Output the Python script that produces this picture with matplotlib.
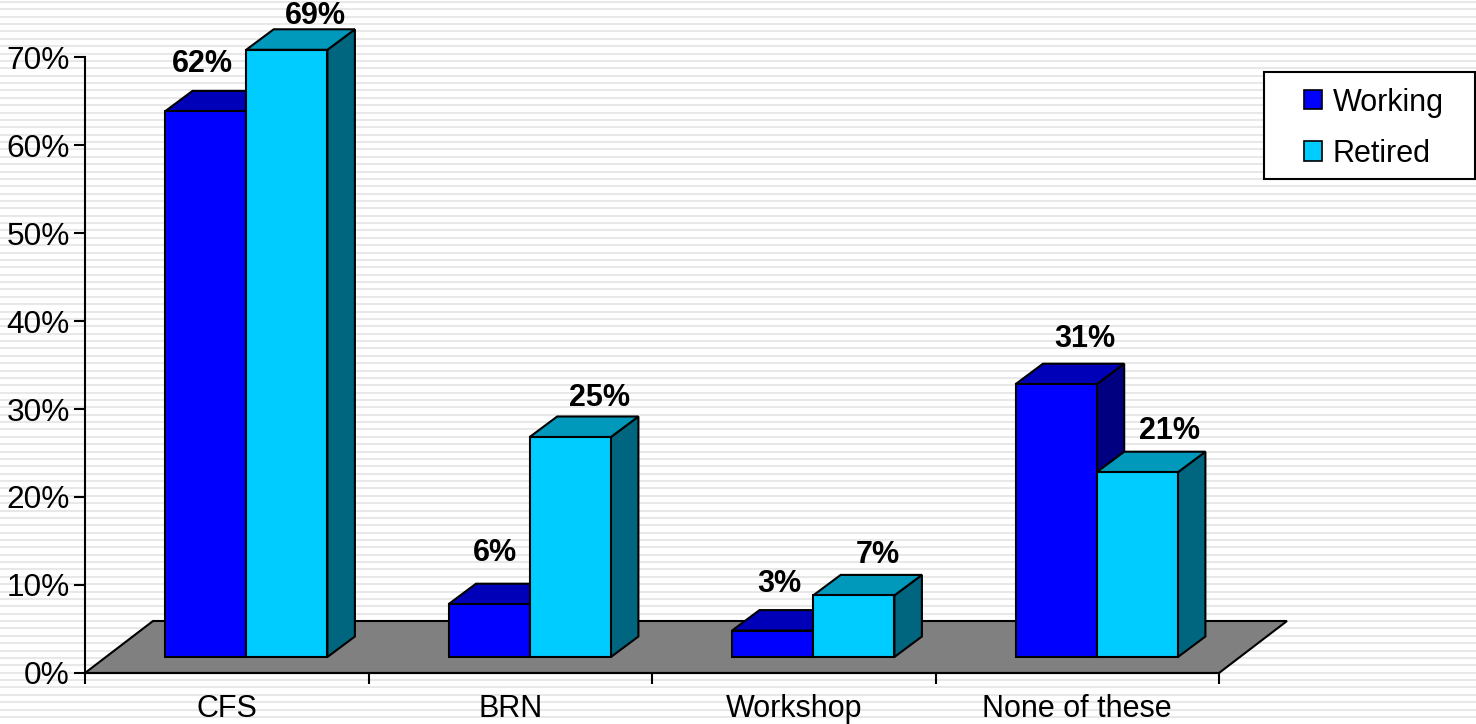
import matplotlib
matplotlib.use("Agg")
import matplotlib.pyplot as plt
from matplotlib.patches import Polygon, Rectangle
import numpy as np

categories = ["CFS", "BRN", "Workshop", "None of these"]
working = [62, 6, 3, 31]
retired = [69, 25, 7, 21]
y_ticks = [0, 10, 20, 30, 40, 50, 60, 70]

# label offsets in pixels from the top left corner of each bar
working_offsets = [(37, 47.5), (46, 51.5), (47, 46.5), (69, 45.5)]
retired_offsets = [(69, 33.5), (70, 39.5), (65, 40.5), (73, 41.5)]

W, H = 1476, 724
plt.rcParams['font.family'] = ['Liberation Sans', 'DejaVu Sans']

fig = plt.figure(figsize=(W / 100, H / 100), dpi=100)

# striped slide background, legend box sits on top of it
bg = fig.add_axes([0, 0, 1, 1], zorder=0)
bg.set_xlim(0, W)
bg.set_ylim(H, 0)
bg.axis("off")
for y in np.arange(2, H, 7.37):
    bg.axhline(y, color="#e8e8e8", lw=1.5)
bg.add_patch(Rectangle((1263.5, 71.5), 211.5, 107, fc="white", ec="black", lw=1.5, zorder=5))

ax = fig.add_axes([85 / W, (H - 673) / H, 1134 / W, 616 / H], zorder=1)
ax.patch.set_alpha(0)
ax.set_xlim(0, 4)
ax.set_ylim(0, 70)

# pixel sizes turned into data units
px_x = 4 / 1134
px_y = 70 / 616
bar_w = 81.2 * px_x
dx, dy = 27.5 * px_x, 20.5 * px_y
base = 16 * px_y
lw = 1.5


def draw_bar(ax, left, value, front, top, side, z):
    bottom = base
    height = value
    ax.add_patch(Polygon([(left + bar_w, bottom), (left + bar_w + dx, bottom + dy),
                          (left + bar_w + dx, bottom + height + dy), (left + bar_w, bottom + height)],
                         fc=side, ec="black", lw=lw, zorder=z, clip_on=False))
    ax.add_patch(Polygon([(left, bottom + height), (left + dx, bottom + height + dy),
                          (left + bar_w + dx, bottom + height + dy), (left + bar_w, bottom + height)],
                         fc=top, ec="black", lw=lw, zorder=z, clip_on=False))
    ax.add_patch(Rectangle((left, bottom), bar_w, height, fc=front, ec="black", lw=lw,
                           zorder=z, clip_on=False))


# floor
floor_dx, floor_dy = 68 * px_x, 52 * px_y
ax.add_patch(Polygon([(0, 0), (floor_dx, floor_dy), (4 + floor_dx, floor_dy), (4, 0)],
                     fc="#808080", ec="black", lw=lw, zorder=2, clip_on=False))

for i in range(len(categories)):
    left = i + 80 * px_x
    draw_bar(ax, left, working[i], "#0000ff", "#0000b8", "#000080", 3 + i * 2)
    draw_bar(ax, left + bar_w, retired[i], "#00ccff", "#0099bb", "#006680", 4 + i * 2)
    ox, oy = working_offsets[i]
    ax.text(left + ox * px_x, base + working[i] + oy * px_y, f"{working[i]}%", ha="center", va="center",
            fontsize=22, fontweight="bold", zorder=20, clip_on=False)
    ox, oy = retired_offsets[i]
    ax.text(left + bar_w + ox * px_x, base + retired[i] + oy * px_y, f"{retired[i]}%", ha="center", va="center",
            fontsize=22, fontweight="bold", zorder=20, clip_on=False)

for s in ["top", "right"]:
    ax.spines[s].set_visible(False)
for s in ["left", "bottom"]:
    ax.spines[s].set_linewidth(1.5)
    ax.spines[s].set_zorder(15)

ax.set_yticks(y_ticks)
ax.set_yticklabels([f"{v}%" for v in y_ticks], fontsize=22.8)
ax.set_xticks(range(5))
ax.set_xticklabels([])
ax.set_xticks(np.arange(len(categories)) + 0.5, labels=categories, minor=True, fontsize=22)
ax.tick_params(axis="both", which="major", length=8, width=1.5, direction="out", pad=3)
ax.tick_params(axis="x", which="minor", length=0, pad=15)

# legend entries, the box is the rectangle on bg
handles = [Rectangle((0, 0), 1, 1, fc="#0000ff", ec="black", lw=1.2),
           Rectangle((0, 0), 1, 1, fc="#00ccff", ec="black", lw=1.2)]
leg = fig.legend(handles, ["Working", "Retired"], loc="upper left",
                 bbox_to_anchor=(1304 / W, 1 - 87.5 / H), borderaxespad=0, fontsize=22,
                 frameon=False, handlelength=0.6, handleheight=0.6, handletextpad=0.33,
                 labelspacing=0.69, borderpad=0)
leg.set_zorder(30)

fig.savefig("out.png", dpi=100)
